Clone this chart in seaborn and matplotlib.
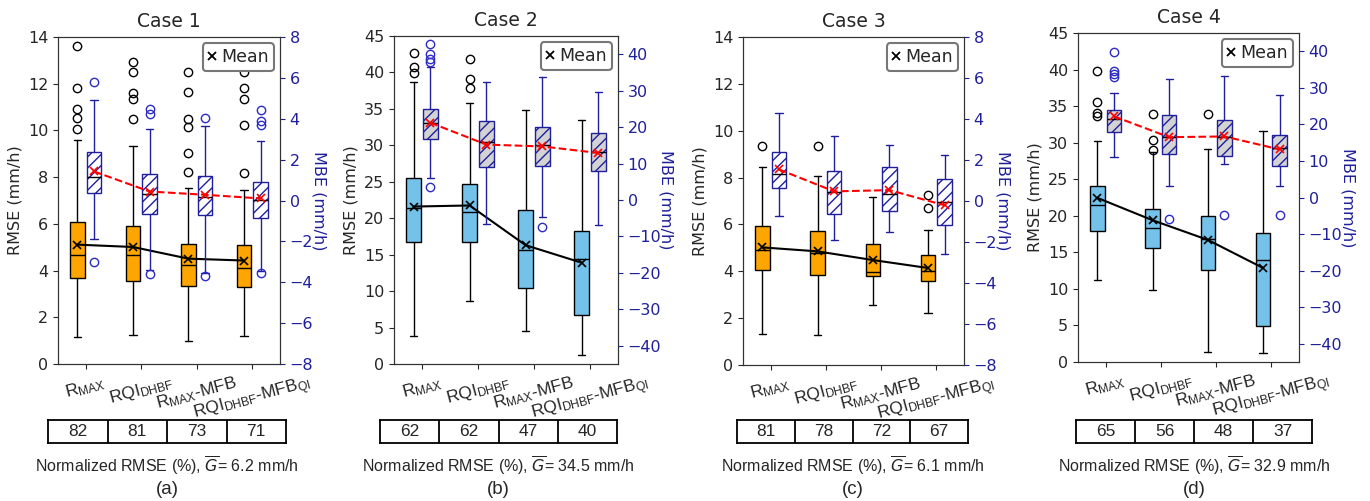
import matplotlib
matplotlib.use("Agg")
import matplotlib.pyplot as plt
from matplotlib.lines import Line2D
import seaborn as sns

# ---------------- data ----------------
cases = ["Case 1", "Case 2", "Case 3", "Case 4"]
methods = [r"$\mathregular{R_{MAX}}$", r"$\mathregular{RQI_{DHBF}}$",
           r"$\mathregular{R_{MAX}}$-MFB", r"$\mathregular{RQI_{DHBF}}$-$\mathregular{MFB_{QI}}$"]
panel_tags = ["(a)", "(b)", "(c)", "(d)"]

# RMSE (left axis) box statistics, one row per case
rmse_whislo = [[1.16, 1.26, 0.99, 1.19], [3.86, 8.6, 4.5, 1.3],
               [1.33, 1.26, 2.58, 2.21], [11.27, 9.9, 1.32, 1.23]]
rmse_q1 = [[3.70, 3.56, 3.33, 3.29], [16.7, 16.8, 10.4, 6.7],
           [4.06, 3.86, 3.80, 3.57], [17.88, 15.6, 12.55, 4.93]]
rmse_med = [[4.66, 4.67, 4.23, 4.13], [21.35, 20.8, 15.7, 14.4],
            [4.91, 4.78, 3.96, 4.03], [21.44, 18.34, 16.79, 13.91]]
rmse_q3 = [[6.08, 5.89, 5.12, 5.10], [25.5, 24.7, 21.15, 18.25],
           [5.94, 5.72, 5.15, 4.68], [24.13, 20.9, 19.98, 17.65]]
rmse_whishi = [[9.59, 9.35, 7.52, 7.44], [38.7, 35.8, 34.9, 33.5],
               [8.43, 8.07, 7.15, 5.76], [30.2, 28.74, 29.1, 31.6]]
rmse_mean = [[5.11, 5.01, 4.51, 4.43], [21.6, 21.75, 16.3, 13.9],
             [5.02, 4.85, 4.48, 4.14], [22.45, 19.39, 16.7, 12.86]]
rmse_fliers = [
    [[13.6, 11.83, 10.9, 10.55, 10.05], [12.95, 12.52, 11.6, 11.33, 10.48],
     [12.52, 11.63, 10.49, 10.15, 9.04, 8.2], [12.52, 11.83, 11.36, 10.25, 8.16]],
    [[42.7, 40.7, 39.9], [41.85, 39.1, 37.8], [], []],
    [[9.35], [9.35], [], [7.26, 6.68]],
    [[39.87, 35.54, 33.99, 33.7], [33.9, 30.34, 28.97], [33.9], []],
]

# MBE (right axis) box statistics
mbe_whislo = [[-1.87, -3.4, -3.55, -3.45], [5.9, -6.7, -4.75, -6.8],
              [-0.73, -1.91, -1.51, -2.59], [11.1, 3.1, 9.2, 3.1]]
mbe_q1 = [[0.37, -0.64, -0.73, -0.88], [16.8, 9.1, 9.2, 7.9],
          [0.65, -0.65, -0.50, -1.18], [17.9, 11.9, 11.3, 8.5]]
mbe_med = [[1.16, 0.33, 0.15, 0.02], [21.1, 15.9, 15.2, 13.2],
           [1.30, 0.42, 0.34, -0.03], [21.5, 16.5, 16.5, 13.5]]
mbe_q3 = [[2.38, 1.29, 1.19, 0.91], [24.9, 21.6, 19.9, 18.4],
          [2.41, 1.46, 1.67, 1.07], [23.9, 22.7, 21.2, 17.0]]
mbe_whishi = [[4.93, 3.5, 3.65, 2.92], [36.4, 32.5, 33.7, 29.7],
              [4.29, 3.16, 2.72, 2.22], [28.6, 32.4, 33.2, 28.0]]
mbe_mean = [[1.42, 0.44, 0.28, 0.10], [21.2, 15.2, 14.7, 12.9],
            [1.54, 0.47, 0.53, -0.21], [22.2, 16.5, 16.7, 13.15]]
mbe_fliers = [
    [[5.78, -3.03], [4.48, 4.23, -3.58], [4.06, -3.7], [4.41, 3.89, 3.7, -3.57]],
    [[42.7, 40.1, 38.8, 37.9, 3.7], [], [-7.5], []],
    [[], [], [], []],
    [[39.9, 34.6, 33.8, 33.0], [-5.75], [-4.84], [-4.66]],
]

nrmse = [[82, 81, 73, 71], [62, 62, 47, 40], [81, 78, 72, 67], [65, 56, 48, 37]]
gbar = [6.2, 34.5, 6.1, 32.9]

# axis settings
left_lim = [(0, 14), (0, 45), (0, 14), (0, 45)]
left_step = [2, 5, 2, 5]
right_lim = [(-8, 8), (-45, 45), (-8, 8), (-45, 45)]
right_ticks = [list(range(-8, 9, 2)), list(range(-40, 41, 10)),
               list(range(-8, 9, 2)), list(range(-40, 41, 10))]

# ---------------- style ----------------
sns.set_style("ticks")
plt.rcParams["font.family"] = ["DejaVu Sans"]
plt.rcParams["hatch.linewidth"] = 1.0
NAVY = "#1f1f9c"
rmse_face = ["orange", "#74c2ea", "orange", "#74c2ea"]
mbe_face = ["white", "#d3d3d3", "white", "#d3d3d3"]

W, H = 1370, 501
fig = plt.figure(figsize=(W / 100, H / 100), dpi=100)


def rect(l, t, r, b):
    return [l / W, 1 - b / H, (r - l) / W, (b - t) / H]


axes_px = [(58, 37, 280, 364), (394, 36, 618, 364), (743, 37, 964, 365), (1078, 33, 1299, 362)]
table_px = [(48, 420, 286, 443), (380, 420, 617, 443), (737, 420, 968, 443), (1076, 420, 1312, 443)]
rlabel_x = [1.175, 1.215, 1.175, 1.22]

OFF, BW = 0.15, 0.26

for k in range(4):
    ax = fig.add_axes(rect(*axes_px[k]))
    ax2 = ax.twinx()

    xr = [i - OFF for i in range(4)]
    xm = [i + OFF for i in range(4)]

    rstats = [dict(med=rmse_med[k][i], q1=rmse_q1[k][i], q3=rmse_q3[k][i],
                   whislo=rmse_whislo[k][i], whishi=rmse_whishi[k][i],
                   fliers=rmse_fliers[k][i]) for i in range(4)]
    mstats = [dict(med=mbe_med[k][i], q1=mbe_q1[k][i], q3=mbe_q3[k][i],
                   whislo=mbe_whislo[k][i], whishi=mbe_whishi[k][i],
                   fliers=mbe_fliers[k][i]) for i in range(4)]

    ax.bxp(rstats, positions=xr, widths=BW, patch_artist=True, manage_ticks=False,
           boxprops=dict(facecolor=rmse_face[k], edgecolor="black", linewidth=1),
           medianprops=dict(color="black", linewidth=1),
           whiskerprops=dict(color="black", linewidth=1),
           capprops=dict(color="black", linewidth=1),
           flierprops=dict(marker="o", markerfacecolor="none", markeredgecolor="black",
                           markersize=6, markeredgewidth=1))
    ax2.bxp(mstats, positions=xm, widths=BW, patch_artist=True, manage_ticks=False,
            boxprops=dict(facecolor=mbe_face[k], edgecolor=NAVY, linewidth=1, hatch="///"),
            medianprops=dict(color="black", linewidth=1),
            whiskerprops=dict(color=NAVY, linewidth=1),
            capprops=dict(color=NAVY, linewidth=1),
            flierprops=dict(marker="o", markerfacecolor="none", markeredgecolor="#2b2bc8",
                            markersize=6, markeredgewidth=1))

    sns.lineplot(x=xr, y=rmse_mean[k], ax=ax, color="black", marker="x", markersize=6,
                 markeredgewidth=1.2, markeredgecolor="black", linewidth=1.5,
                 legend=False, zorder=5)
    sns.lineplot(x=xm, y=mbe_mean[k], ax=ax2, color="red", marker="x", markersize=6,
                 markeredgewidth=1.2, markeredgecolor="red", linewidth=1.5,
                 linestyle="--", legend=False, zorder=5)

    ax.set_xlim(-0.5, 3.5)
    ax.set_ylim(*left_lim[k])
    lo, hi = left_lim[k]
    ax.set_yticks(list(range(lo, hi + 1, left_step[k])))
    ax2.set_ylim(*right_lim[k])
    ax2.set_yticks(right_ticks[k])
    ax.set_xticks(range(4))
    ax.set_xticklabels(methods, rotation=15, ha="center", fontsize=12.5,
                       fontfamily="Liberation Sans")
    ax.tick_params(axis="y", labelsize=11.5)
    ax.tick_params(axis="x", pad=3)
    ax2.tick_params(axis="y", colors=NAVY, labelsize=11.5)
    ax.set_ylabel("RMSE (mm/h)", fontsize=11.5)
    ax2.set_ylabel("MBE (mm/h)", fontsize=11.5, color=NAVY, rotation=270)
    ax2.yaxis.label.set_va("center")
    ax2.yaxis.set_label_coords(rlabel_x[k], 0.5)
    ax.set_title(cases[k], fontsize=13.5, pad=7)
    for sp in ax2.spines.values():
        sp.set_color("#333333")

    leg = ax2.legend(handles=[Line2D([], [], marker="x", color="black", linestyle="None",
                                     markersize=6, markeredgewidth=1.3)],
                     labels=["Mean"], loc="upper right", fontsize=12.5,
                     handlelength=0.5, handletextpad=0.25, borderpad=0.3,
                     borderaxespad=0.35, framealpha=1, edgecolor="#777777", fancybox=True)
    leg.get_frame().set_linewidth(1.5)

    # table of normalized RMSE: one row of four cells
    tl, tt, tr, tb = table_px[k]
    tax = fig.add_axes(rect(tl, tt, tr, tb))
    tax.set_xlim(0, len(nrmse[k]))
    tax.set_ylim(0, 1)
    tax.set_xticks([])
    tax.set_yticks([])
    for sp in tax.spines.values():
        sp.set_visible(True)
        sp.set_color("black")
        sp.set_linewidth(1.3)
    for j, v in enumerate(nrmse[k]):
        if j > 0:
            tax.axvline(j, color="black", linewidth=1.3)
        tax.text(j + 0.5, 0.5, str(v), ha="center", va="center", fontsize=12.5,
                 fontfamily="Liberation Sans")

    cx = (tl + tr) / 2 / W
    fig.text(cx, 1 - 466 / H, "Normalized RMSE (%), $\\overline{G}$= " + f"{gbar[k]} mm/h",
             ha="center", va="center", fontsize=11.5, fontfamily="Liberation Sans")
    fig.text(cx, 1 - 489 / H, panel_tags[k], ha="center", va="center", fontsize=13.5,
             fontfamily="Liberation Sans")

fig.savefig("out.png", dpi=100)
